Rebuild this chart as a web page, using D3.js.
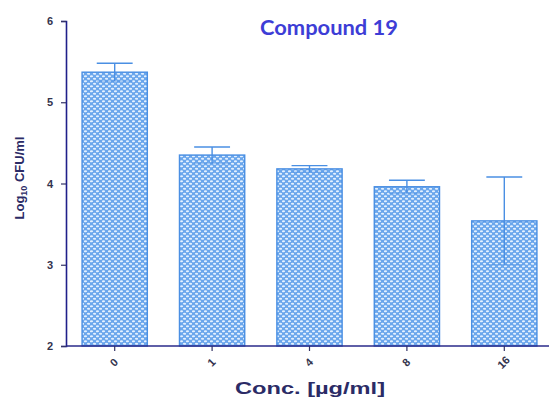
<!DOCTYPE html>
<html>
<head>
<meta charset="utf-8">
<script src="https://cdn.jsdelivr.net/npm/d3@7"></script>
<style>
  body { margin: 0; background: #fff; }
</style>
</head>
<body>
<div id="chart"></div>
<script>
const concs = ["0", "1", "4", "8", "16"];
const logCfu = [5.37, 4.35, 4.18, 3.96, 3.54];
const sem = [0.11, 0.10, 0.04, 0.08, 0.54];
const yTicks = [2, 3, 4, 5, 6];

const width = 549, height = 397;
const margin = {top: 21, right: -4, bottom: 51, left: 66};

const data = concs.map((c, i) => ({conc: c, value: logCfu[i], err: sem[i]}));

const svg = d3.select("#chart")
  .append("svg")
    .attr("width", width)
    .attr("height", height);

// cross hatch fill used by GraphPad style bars
const defs = svg.append("defs");
const pat = defs.append("pattern")
    .attr("id", "hatch")
    .attr("patternUnits", "userSpaceOnUse")
    .attr("width", 6)
    .attr("height", 5);
pat.append("rect")
    .attr("width", 6).attr("height", 5)
    .attr("fill", "#6aa6ec");
pat.append("ellipse")
    .attr("cx", 1.5).attr("cy", 1.2).attr("rx", 1.6).attr("ry", 1.0)
    .attr("fill", "#e4f1ff");
pat.append("ellipse")
    .attr("cx", 4.5).attr("cy", 3.7).attr("rx", 1.6).attr("ry", 1.0)
    .attr("fill", "#e4f1ff");

const x = d3.scaleBand()
    .domain(concs)
    .range([margin.left, width - margin.right])
    .paddingInner(0.33)
    .paddingOuter(0.165);

const y = d3.scaleLinear()
    .domain([2, 6])
    .range([height - margin.bottom, margin.top]);

// bars
svg.selectAll("rect.bar")
  .data(data)
  .join("rect")
    .attr("class", "bar")
    .attr("x", d => x(d.conc))
    .attr("y", d => y(d.value))
    .attr("width", x.bandwidth())
    .attr("height", d => y(2) - y(d.value))
    .attr("fill", "url(#hatch)")
    .attr("stroke", "#4a8fe3")
    .attr("stroke-width", 1.4);

// error bars
const errColor = "#4a8fe3";
const capW = x.bandwidth() * 0.55;
const eb = svg.selectAll("g.err")
  .data(data)
  .join("g")
    .attr("class", "err");
eb.append("line")
    .attr("x1", d => x(d.conc) + x.bandwidth() / 2)
    .attr("x2", d => x(d.conc) + x.bandwidth() / 2)
    .attr("y1", d => y(d.value + d.err))
    .attr("y2", d => y(d.value - d.err))
    .attr("stroke", errColor)
    .attr("stroke-width", 1.4);
eb.append("line")
    .attr("x1", d => x(d.conc) + x.bandwidth() / 2 - capW / 2)
    .attr("x2", d => x(d.conc) + x.bandwidth() / 2 + capW / 2)
    .attr("y1", d => y(d.value + d.err))
    .attr("y2", d => y(d.value + d.err))
    .attr("stroke", errColor)
    .attr("stroke-width", 1.4);
eb.append("line")
    .attr("x1", d => x(d.conc) + x.bandwidth() / 2 - capW / 2)
    .attr("x2", d => x(d.conc) + x.bandwidth() / 2 + capW / 2)
    .attr("y1", d => y(d.value - d.err))
    .attr("y2", d => y(d.value - d.err))
    .attr("stroke", errColor)
    .attr("stroke-width", 1)
    .attr("opacity", 0.6);

// y axis
const yAxis = svg.append("g")
    .attr("transform", `translate(${margin.left},0)`)
    .call(d3.axisLeft(y).tickValues(yTicks).tickFormat(d3.format("d")).tickSize(5).tickPadding(8));
yAxis.select(".domain").attr("stroke", "#1f1f8a").attr("stroke-width", 1.6);
yAxis.selectAll(".tick line").attr("stroke", "#333366").attr("stroke-width", 1.2);
yAxis.selectAll("text")
    .attr("fill", "#33334d")
    .style("font", "bold 11px 'Liberation Sans', Arial, sans-serif");

// x axis
const xAxis = svg.append("g")
    .attr("transform", `translate(0,${y(2)})`)
    .call(d3.axisBottom(x).tickSize(5).tickSizeOuter(0));
xAxis.select(".domain")
    .attr("stroke", "#2a2a8a").attr("stroke-width", 1.6)
    .attr("d", `M${margin.left},0H${width}`);
xAxis.selectAll(".tick line").attr("stroke", "#333366").attr("stroke-width", 1.2);
xAxis.selectAll("text")
    .attr("fill", "#33334d")
    .attr("text-anchor", "middle")
    .attr("dy", null)
    .attr("y", 0)
    .attr("transform", "translate(0,17) rotate(-45)")
    .attr("dominant-baseline", "middle")
    .style("font", "bold 11px 'Liberation Sans', Arial, sans-serif");

// title
svg.append("text")
    .attr("x", 329)
    .attr("y", 35)
    .attr("text-anchor", "middle")
    .attr("fill", "#3d3dd6")
    .style("font", "bold 20px Lato, 'Open Sans', sans-serif")
    .attr("textLength", 138)
    .attr("lengthAdjust", "spacingAndGlyphs")
    .text("Compound 19");

// x axis title
svg.append("text")
    .attr("x", 310)
    .attr("y", 394)
    .attr("text-anchor", "middle")
    .attr("fill", "#2b2b66")
    .style("font", "bold 16px 'Liberation Sans', Arial, sans-serif")
    .attr("textLength", 150)
    .attr("lengthAdjust", "spacingAndGlyphs")
    .text("Conc. [µg/ml]");

// y axis title
const yt = svg.append("text")
    .attr("transform", "translate(24,178) rotate(-90)")
    .attr("text-anchor", "middle")
    .attr("fill", "#2b2b66")
    .style("font", "bold 13px 'Liberation Sans', Arial, sans-serif");
yt.append("tspan").text("Log");
yt.append("tspan").attr("dy", 3).style("font-size", "9px").text("10");
yt.append("tspan").attr("dy", -3).text(" CFU/ml");
</script>
</body>
</html>
